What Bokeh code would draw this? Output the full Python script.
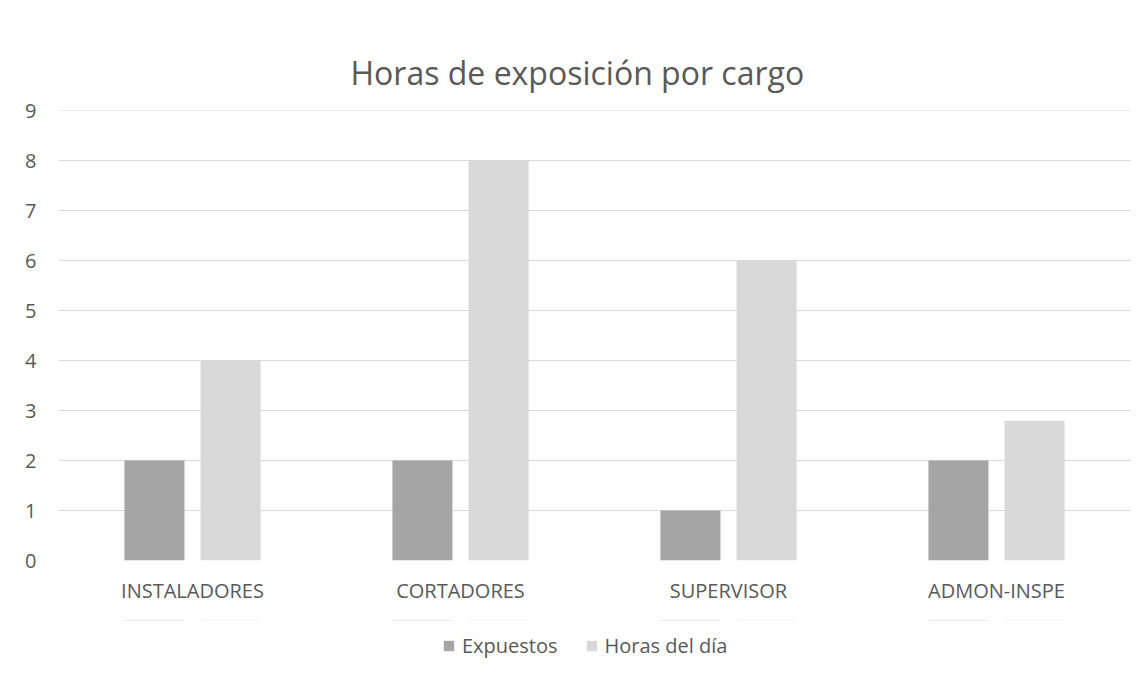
from bokeh.plotting import figure
from bokeh.layouts import column
from bokeh.models import (ColumnDataSource, FactorRange, Range1d, FixedTicker,
                          Legend, LegendItem)
from bokeh.transform import dodge
from bokeh.embed import file_html
from bokeh.resources import INLINE

categories = ["INSTALADORES", "CORTADORES", "SUPERVISOR", "ADMON-INSPE"]
expuestos = [2, 2, 1, 2]
horas_dia = [4, 8, 6, 2.8]
y_ticks = [0, 1, 2, 3, 4, 5, 6, 7, 8, 9]
title_text = "Horas de exposición por cargo"
series_names = ["Expuestos", "Horas del día"]

FONT = "Open Sans"
TXT = "#595959"
DARK = "#A5A5A5"
LIGHT = "#D9D9D9"
GRID = "#D9D9D9"

src = ColumnDataSource(dict(cat=categories, exp=expuestos, hrs=horas_dia))

p = figure(width=1146, height=620, output_backend="svg", toolbar_location=None,
           x_range=FactorRange(*categories, range_padding=0),
           y_range=Range1d(0, 9.01),
           min_border_left=58, min_border_right=16,
           min_border_top=110, min_border_bottom=60)
p.outline_line_color = None
p.background_fill_color = "white"
p.border_fill_color = "white"

p.title.text = title_text
p.title.align = "left"
p.title.offset = 292
p.title.text_font = FONT
p.title.text_font_size = "32px"
p.title.text_font_style = "normal"
p.title.text_color = TXT
p.title.standoff = 33

p.vbar(x=dodge("cat", -0.142, range=p.x_range), top="exp", width=0.224,
       source=src, fill_color=DARK, line_color=None)
p.vbar(x=dodge("cat", 0.142, range=p.x_range), top="hrs", width=0.224,
       source=src, fill_color=LIGHT, line_color=None)

p.xgrid.grid_line_color = None
p.ygrid.grid_line_color = GRID
p.ygrid.grid_line_width = 1
p.yaxis.ticker = FixedTicker(ticks=y_ticks)

for ax in (p.xaxis[0], p.yaxis[0]):
    ax.axis_line_color = None
    ax.major_tick_line_color = None
    ax.minor_tick_line_color = None
    ax.major_tick_out = 0
    ax.major_tick_in = 0
    ax.major_label_text_font = FONT
    ax.major_label_text_font_size = "20px"
    ax.major_label_text_color = TXT
p.xaxis.major_label_standoff = 16
p.yaxis.major_label_standoff = 22

# legend strip below the chart (zero-height, out-of-view copies; only the legend shows)
lf = figure(width=1146, height=56, output_backend="svg", toolbar_location=None,
            x_range=p.x_range, y_range=Range1d(-20, -19),
            min_border=0, x_axis_location=None, y_axis_location=None)
lf.outline_line_color = None
lf.grid.visible = False
lr1 = lf.vbar(x=dodge("cat", -0.142, range=p.x_range), top="exp", bottom="exp",
              width=0.224, source=src, fill_color=DARK, line_color=None)
lr2 = lf.vbar(x=dodge("cat", 0.142, range=p.x_range), top="hrs", bottom="hrs",
              width=0.224, source=src, fill_color=LIGHT, line_color=None)
legend = Legend(items=[LegendItem(label=series_names[0], renderers=[lr1]),
                       LegendItem(label=series_names[1], renderers=[lr2])],
                orientation="horizontal", location=(384, 17),
                label_text_font=FONT, label_text_font_size="20px",
                label_text_color=TXT, glyph_width=13, glyph_height=13,
                label_standoff=7, spacing=27, border_line_color=None,
                background_fill_alpha=0, margin=0, padding=0)
lf.add_layout(legend)

layout = column(p, lf, spacing=0)
open("out.html", "w").write(file_html(layout, INLINE))
